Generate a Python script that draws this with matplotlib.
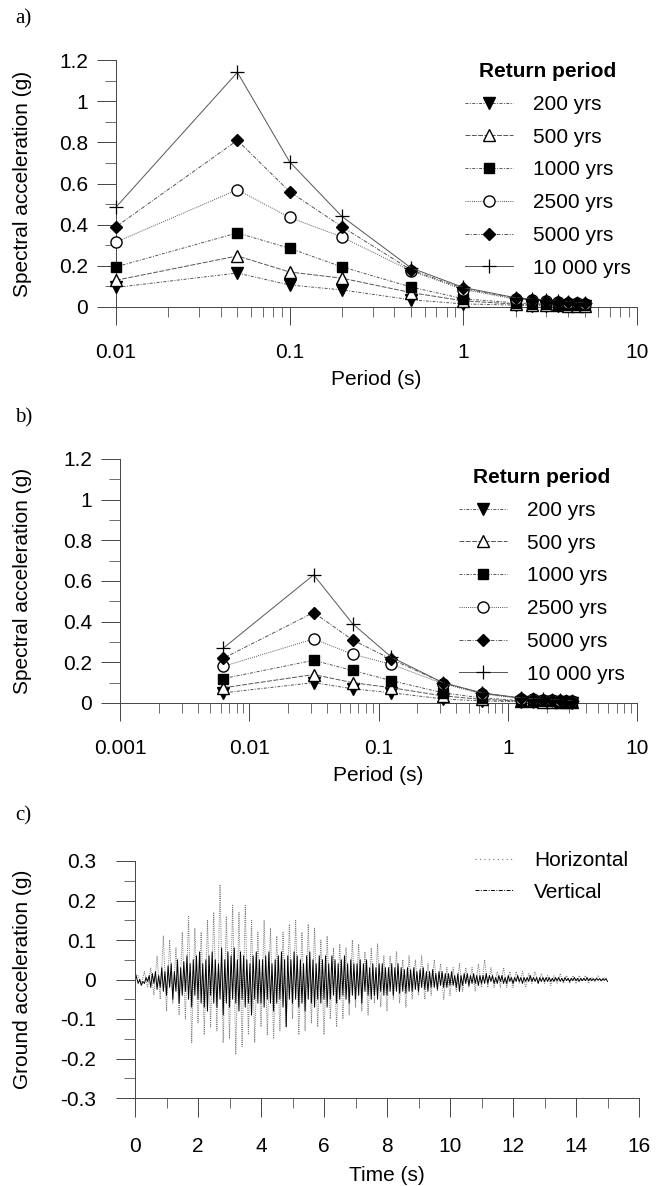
import numpy as np
import matplotlib.pyplot as plt
from matplotlib.ticker import MultipleLocator, FixedLocator, NullFormatter

plt.rcParams['font.family'] = ['Liberation Sans', 'DejaVu Sans']

# ---- data -------------------------------------------------------------
return_periods = ['200 yrs', '500 yrs', '1000 yrs', '2500 yrs', '5000 yrs', '10 000 yrs']

# a) spectra
periods_a = [0.01, 0.05, 0.1, 0.2, 0.5, 1.0, 2.0, 2.5, 3.0, 3.5, 4.0, 4.5, 5.0]
sa_a_200 = [0.095, 0.165, 0.107, 0.083, 0.035, 0.015, 0.009, 0.007, 0.006, 0.005, 0.004, 0.004, 0.003]
sa_a_500 = [0.13, 0.248, 0.17, 0.14, 0.07, 0.03, 0.014, 0.012, 0.010, 0.008, 0.007, 0.006, 0.005]
sa_a_1000 = [0.195, 0.36, 0.285, 0.195, 0.097, 0.04, 0.020, 0.017, 0.014, 0.012, 0.010, 0.009, 0.008]
sa_a_2500 = [0.315, 0.57, 0.435, 0.34, 0.175, 0.085, 0.038, 0.032, 0.027, 0.023, 0.020, 0.018, 0.016]
sa_a_5000 = [0.39, 0.81, 0.56, 0.39, 0.18, 0.09, 0.042, 0.035, 0.030, 0.025, 0.022, 0.020, 0.018]
sa_a_10000 = [0.485, 1.14, 0.705, 0.44, 0.19, 0.095, 0.045, 0.038, 0.032, 0.027, 0.024, 0.021, 0.019]

# b) spectra
periods_b = [0.0063, 0.0315, 0.063, 0.126, 0.315, 0.63, 1.26, 1.575, 1.89, 2.205, 2.52, 2.835, 3.15]
sa_b_200 = [0.05, 0.10, 0.07, 0.05, 0.02, 0.01, 0.006, 0.005, 0.004, 0.004, 0.003, 0.003, 0.002]
sa_b_500 = [0.075, 0.14, 0.10, 0.075, 0.035, 0.018, 0.009, 0.008, 0.007, 0.006, 0.005, 0.004, 0.004]
sa_b_1000 = [0.12, 0.21, 0.16, 0.11, 0.05, 0.025, 0.012, 0.011, 0.009, 0.008, 0.007, 0.006, 0.005]
sa_b_2500 = [0.18, 0.315, 0.24, 0.19, 0.095, 0.045, 0.022, 0.019, 0.016, 0.014, 0.012, 0.011, 0.010]
sa_b_5000 = [0.22, 0.445, 0.31, 0.215, 0.10, 0.048, 0.024, 0.020, 0.017, 0.015, 0.013, 0.012, 0.011]
sa_b_10000 = [0.27, 0.63, 0.39, 0.225, 0.10, 0.05, 0.025, 0.021, 0.018, 0.016, 0.014, 0.012, 0.011]

period_ticks_a = [0.01, 0.1, 1, 10]
period_labels_a = ['0.01', '0.1', '1', '10']
period_ticks_b = [0.001, 0.01, 0.1, 1, 10]
period_labels_b = ['0.001', '0.01', '0.1', '1', '10']
sa_ticks = [0, 0.2, 0.4, 0.6, 0.8, 1.0, 1.2]
sa_labels = ['0', '0.2', '0.4', '0.6', '0.8', '1', '1.2']

# c) accelerogram, horizontal sampled every 0.1 s
acc_horizontal = [
    0.0, 0.01, -0.01, 0.02, -0.02, 0.03, -0.04, 0.06, -0.05, 0.11,
    -0.08, 0.10, -0.06, 0.08, -0.09, 0.12, -0.10, 0.16, -0.16, 0.13,
    -0.11, 0.12, -0.14, 0.15, -0.12, 0.17, -0.13, 0.24, -0.16, 0.16,
    -0.15, 0.19, -0.19, 0.17, -0.17, 0.19, -0.14, 0.15, -0.16, 0.12,
    -0.12, 0.15, -0.14, 0.13, -0.15, 0.11, -0.13, 0.12, -0.12, 0.14,
    -0.10, 0.15, -0.14, 0.12, -0.13, 0.14, -0.11, 0.13, -0.12, 0.10,
    -0.14, 0.11, -0.10, 0.08, -0.12, 0.09, -0.10, 0.08, -0.09, 0.10,
    -0.07, 0.09, -0.08, 0.07, -0.09, 0.08, -0.06, 0.09, -0.07, 0.06,
    -0.08, 0.06, -0.05, 0.07, -0.06, 0.05, -0.07, 0.06, -0.05, 0.05,
    -0.04, 0.06, -0.05, 0.04, -0.04, 0.05, -0.03, 0.04, -0.05, 0.03,
    -0.04, 0.03, -0.03, 0.04, -0.03, 0.03, -0.02, 0.03, -0.03, 0.04,
    -0.02, 0.05, -0.02, 0.03, -0.02, 0.02, -0.02, 0.03, -0.02, 0.02,
    -0.02, 0.02, -0.01, 0.02, -0.02, 0.015, -0.01, 0.02, -0.01, 0.015,
    -0.01, 0.01, -0.015, 0.01, -0.01, 0.015, -0.01, 0.01, -0.01, 0.01,
    -0.01, 0.01, -0.005, 0.01, -0.01, 0.005, -0.005, 0.01, -0.005, 0.005,
    0.0,
]

# vertical sampled every 0.05 s
acc_vertical = [
    0.02, 0.005, -0.01, 0.0, -0.015, -0.005, -0.01, 0.005, -0.005, 0.01,
    -0.02, 0.015, -0.01, 0.02, -0.025, 0.01, -0.02, 0.03, -0.03, 0.02,
    -0.04, 0.035, -0.02, 0.04, -0.05, 0.02, -0.03, 0.05, -0.06, 0.03,
    -0.04, 0.045, -0.03, 0.06, -0.05, 0.04, -0.07, 0.05, -0.04, 0.06,
    -0.05, 0.07, -0.06, 0.04, -0.07, 0.05, -0.08, 0.06, -0.04, 0.07,
    -0.06, 0.05, -0.07, 0.04, -0.05, 0.08, -0.09, 0.05, -0.06, 0.07,
    -0.07, 0.06, -0.05, 0.08, -0.06, 0.05, -0.08, 0.07, -0.05, 0.06,
    -0.07, 0.05, -0.06, 0.04, -0.09, 0.06, -0.05, 0.07, -0.06, 0.05,
    -0.06, 0.05, -0.07, 0.06, -0.05, 0.07, -0.06, 0.04, -0.08, 0.05,
    -0.06, 0.06, -0.05, 0.07, -0.07, 0.05, -0.12, 0.06, -0.05, 0.05,
    -0.06, 0.07, -0.05, 0.06, -0.07, 0.05, -0.06, 0.04, -0.08, 0.06,
    -0.05, 0.07, -0.06, 0.05, -0.07, 0.04, -0.05, 0.06, -0.06, 0.05,
    -0.05, 0.06, -0.07, 0.04, -0.05, 0.06, -0.04, 0.05, -0.06, 0.04,
    -0.05, 0.05, -0.04, 0.06, -0.05, 0.04, -0.06, 0.05, -0.04, 0.04,
    -0.05, 0.04, -0.04, 0.05, -0.06, 0.04, -0.03, 0.05, -0.04, 0.03,
    -0.05, 0.04, -0.04, 0.03, -0.05, 0.04, -0.03, 0.04, -0.04, 0.03,
    -0.04, 0.03, -0.03, 0.04, -0.04, 0.03, -0.03, 0.04, -0.035, 0.03,
    -0.03, 0.025, -0.035, 0.03, -0.03, 0.025, -0.03, 0.03, -0.025, 0.02,
    -0.03, 0.025, -0.02, 0.03, -0.025, 0.02, -0.03, 0.02, -0.02, 0.025,
    -0.02, 0.015, -0.025, 0.02, -0.015, 0.02, -0.02, 0.015, -0.02, 0.015,
    -0.015, 0.02, -0.015, 0.01, -0.02, 0.015, -0.03, 0.01, -0.015, 0.015,
    -0.01, 0.015, -0.015, 0.01, -0.01, 0.015, -0.01, 0.01, -0.015, 0.01,
    -0.01, 0.01, -0.01, 0.015, -0.01, 0.01, -0.005, 0.01, -0.01, 0.005,
    -0.01, 0.01, -0.005, 0.01, -0.01, 0.005, -0.01, 0.01, -0.005, 0.005,
    -0.01, 0.005, -0.005, 0.01, -0.005, 0.005, -0.01, 0.005, -0.005, 0.005,
    -0.005, 0.01, -0.005, 0.005, -0.005, 0.005, -0.01, 0.005, -0.005, 0.005,
    -0.005, 0.005, -0.005, 0.005, -0.005, 0.003, -0.005, 0.005, -0.003, 0.005,
    -0.005, 0.003, -0.005, 0.005, -0.003, 0.003, -0.005, 0.003, -0.003, 0.005,
    -0.003, 0.003, -0.005, 0.003, -0.003, 0.003, -0.003, 0.005, -0.003, 0.003,
    -0.003, 0.002, -0.003, 0.003, -0.002, 0.002, -0.003, 0.002, -0.002, 0.002,
    -0.005,
]
time_h = np.arange(len(acc_horizontal)) * 0.1
time_v = np.arange(len(acc_vertical)) * 0.05

time_ticks = [0, 2, 4, 6, 8, 10, 12, 14, 16]
acc_ticks = [-0.3, -0.2, -0.1, 0, 0.1, 0.2, 0.3]
acc_labels = ['-0.3', '-0.2', '-0.1', '0', '0.1', '0.2', '0.3']

# ---- styles -------------------------------------------------------------
markers = ['v', '^', 's', 'o', 'D', '+']
faces = ['black', 'white', 'black', 'white', 'black', 'black']
sizes = [8, 8, 7.5, 8, 6, 10]
dashes = [(0, (3, 1.5, 1, 1.5)), (0, (5, 1.5)), (0, (3, 1.5, 1, 1.5)),
          (0, (1, 1.2)), (0, (4, 1.5, 1, 1.5)), '-']

W, H = 656, 1186
fs = 15


def rect(left, right, top, bottom):
    return [left / W, 1 - bottom / H, (right - left) / W, (bottom - top) / H]


fig = plt.figure(figsize=(W / 100, H / 100), dpi=100)


def spectral_panel(box, periods, series, xmin, xticks, xlabels, leg_xy, xlab_y):
    ax = fig.add_axes(rect(*box))
    for vals, lab, m, fc, ms, ls in zip(series, return_periods, markers, faces, sizes, dashes):
        ax.plot(periods, vals, color='#555555', lw=0.7, linestyle=ls,
                marker=m, mfc=fc, mec='black', mew=1.0 if m != '+' else 0.9,
                ms=ms, label=lab, clip_on=False, zorder=3)
    ax.set_xscale('log')
    ax.set_xlim(xmin, 10)
    ax.set_ylim(0, 1.2)
    ax.xaxis.set_major_locator(FixedLocator(xticks))
    ax.set_xticklabels(xlabels)
    ax.xaxis.set_minor_formatter(NullFormatter())
    ax.set_yticks(sa_ticks)
    ax.set_yticklabels(sa_labels)
    ax.yaxis.set_minor_locator(MultipleLocator(0.1))
    for s in ['top', 'right']:
        ax.spines[s].set_visible(False)
    for s in ['left', 'bottom']:
        ax.spines[s].set_linewidth(0.7)
        ax.spines[s].set_color('#444444')
    ax.tick_params(axis='x', which='major', length=13, width=0.7, color='#444444', pad=13, labelsize=fs)
    ax.tick_params(axis='x', which='minor', length=7, width=0.6, color='#555555')
    ax.tick_params(axis='y', which='major', length=14, width=0.7, color='#444444', pad=6, labelsize=fs)
    ax.tick_params(axis='y', which='minor', length=8, width=0.6, color='#555555')
    ax.set_xlabel('Period (s)', fontsize=fs)
    ax.set_ylabel('Spectral acceleration (g)', fontsize=fs)
    left, right, top, bottom = box
    ax.yaxis.set_label_coords((32 - left) / (right - left), 0.5)
    ax.xaxis.set_label_coords(0.5, -(xlab_y - bottom) / (bottom - top))
    ax.legend(loc='upper left', bbox_to_anchor=(leg_xy[0] / W, 1 - leg_xy[1] / H),
              bbox_transform=fig.transFigure, frameon=False, fontsize=fs,
              title='Return period', title_fontproperties={'weight': 'bold', 'size': fs},
              handlelength=2.3, handletextpad=0.95, labelspacing=0.66,
              borderpad=0.2, borderaxespad=0)
    return ax


# a) panel
spectral_panel((116, 637, 60, 307), periods_a,
               [sa_a_200, sa_a_500, sa_a_1000, sa_a_2500, sa_a_5000, sa_a_10000],
               0.01, period_ticks_a, period_labels_a, (461, 58), 370)

# b) panel
spectral_panel((120, 637, 459, 703), periods_b,
               [sa_b_200, sa_b_500, sa_b_1000, sa_b_2500, sa_b_5000, sa_b_10000],
               0.001, period_ticks_b, period_labels_b, (455, 464), 766)

# c) panel: accelerogram
box_c = (135, 639, 861, 1098)
axc = fig.add_axes(rect(*box_c))
axc.plot(time_h, acc_horizontal, color='#777777', lw=0.7, linestyle=(0, (1, 1.2)), label='Horizontal')
axc.plot(time_v, acc_vertical, color='black', lw=0.7, label='Vertical')
axc.set_xlim(0, 16)
axc.set_ylim(-0.3, 0.3)
axc.set_xticks(time_ticks)
axc.xaxis.set_minor_locator(MultipleLocator(1))
axc.set_yticks(acc_ticks)
axc.set_yticklabels(acc_labels)
axc.yaxis.set_minor_locator(MultipleLocator(0.05))
for s in ['top', 'right']:
    axc.spines[s].set_visible(False)
for s in ['left', 'bottom']:
    axc.spines[s].set_linewidth(0.7)
    axc.spines[s].set_color('#444444')
axc.tick_params(axis='x', which='major', length=14, width=0.7, color='#444444', pad=14, labelsize=fs)
axc.tick_params(axis='x', which='minor', length=7, width=0.6, color='#555555')
axc.tick_params(axis='y', which='major', length=14, width=0.7, color='#444444', pad=14, labelsize=fs)
axc.tick_params(axis='y', which='minor', length=8, width=0.6, color='#555555')
axc.set_xlabel('Time (s)', fontsize=fs)
axc.set_ylabel('Ground acceleration (g)', fontsize=fs)
axc.yaxis.set_label_coords((32 - box_c[0]) / (box_c[1] - box_c[0]), 0.5)
axc.xaxis.set_label_coords(0.5, -(1166 - box_c[3]) / (box_c[3] - box_c[2]))
leg_h = [plt.Line2D([], [], color='#777777', lw=0.8, linestyle=(0, (1, 3))),
         plt.Line2D([], [], color='black', lw=0.7, linestyle=(0, (4, 1.5, 1, 1.5)))]
axc.legend(leg_h, ['Horizontal', 'Vertical'], loc='upper left',
           bbox_to_anchor=(475 / W, 1 - 851 / H), bbox_transform=fig.transFigure,
           frameon=False, fontsize=fs, handlelength=1.85, handletextpad=1.0,
           labelspacing=0.6, borderpad=0, borderaxespad=0)

# panel letters
for lab, y in [('a)', 19), ('b)', 418), ('c)', 816)]:
    fig.text(15 / W, 1 - y / H, lab, fontsize=15, family='Liberation Serif', va='center', ha='left')

plt.savefig('out.png', dpi=100)
